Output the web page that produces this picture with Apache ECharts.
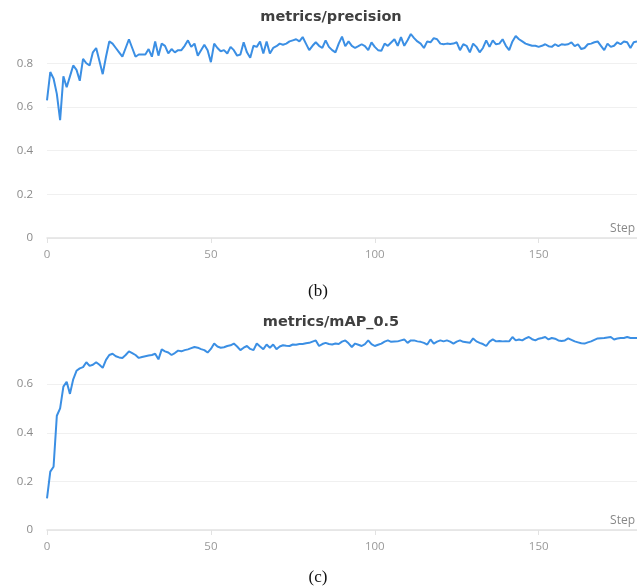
<!DOCTYPE html>
<html>
<head>
<meta charset="utf-8">
<script src="https://cdn.jsdelivr.net/npm/echarts@6/dist/echarts.min.js"></script>
<style>
  html, body { margin: 0; padding: 0; background: #fff; }
  #chart { width: 637px; height: 588px; }
</style>
</head>
<body>
<div id="chart"></div>
<script>
// values, one per step 0..180
const precision = [
  0.63, 0.76, 0.73, 0.66, 0.54, 0.74, 0.69, 0.74, 0.79, 0.77,
  0.72, 0.82, 0.80, 0.79, 0.85, 0.87, 0.81, 0.75, 0.83, 0.90,
  0.89, 0.87, 0.85, 0.83, 0.87, 0.91, 0.87, 0.83, 0.84, 0.84,
  0.84, 0.865, 0.83, 0.90, 0.835, 0.89, 0.88, 0.845, 0.865, 0.85,
  0.86, 0.86, 0.88, 0.905, 0.875, 0.89, 0.835, 0.86, 0.885, 0.86,
  0.805, 0.89, 0.87, 0.855, 0.86, 0.845, 0.875, 0.86, 0.835, 0.84,
  0.896, 0.85, 0.825, 0.88, 0.875, 0.90, 0.845, 0.90, 0.845, 0.87,
  0.878, 0.89, 0.885, 0.89, 0.90, 0.905, 0.91, 0.90, 0.92, 0.89,
  0.86, 0.88, 0.896, 0.88, 0.87, 0.905, 0.875, 0.86, 0.85, 0.89,
  0.922, 0.878, 0.90, 0.88, 0.87, 0.878, 0.887, 0.878, 0.86, 0.896,
  0.875, 0.86, 0.857, 0.89, 0.88, 0.895, 0.91, 0.88, 0.92, 0.88,
  0.905, 0.934, 0.915, 0.90, 0.89, 0.87, 0.90, 0.896, 0.915, 0.91,
  0.89, 0.887, 0.89, 0.888, 0.89, 0.896, 0.86, 0.887, 0.88, 0.85,
  0.89, 0.875, 0.85, 0.87, 0.905, 0.875, 0.905, 0.887, 0.89, 0.91,
  0.88, 0.86, 0.90, 0.925, 0.91, 0.90, 0.89, 0.885, 0.88, 0.88,
  0.875, 0.88, 0.887, 0.878, 0.875, 0.887, 0.878, 0.887, 0.885, 0.887,
  0.896, 0.878, 0.887, 0.865, 0.87, 0.887, 0.89, 0.896, 0.90, 0.88,
  0.86, 0.89, 0.875, 0.88, 0.896, 0.887, 0.90, 0.896, 0.87, 0.896,
  0.90
];

const mAP50 = [
  0.13, 0.24, 0.26, 0.47, 0.50, 0.59, 0.61, 0.56, 0.62, 0.655,
  0.665, 0.67, 0.69, 0.675, 0.68, 0.69, 0.68, 0.667, 0.70, 0.72,
  0.725, 0.715, 0.71, 0.708, 0.72, 0.735, 0.728, 0.72, 0.708, 0.712,
  0.715, 0.718, 0.72, 0.725, 0.702, 0.743, 0.735, 0.73, 0.72, 0.728,
  0.738, 0.735, 0.74, 0.743, 0.748, 0.753, 0.75, 0.744, 0.74, 0.73,
  0.745, 0.767, 0.755, 0.75, 0.752, 0.757, 0.76, 0.767, 0.755, 0.74,
  0.75, 0.757, 0.745, 0.74, 0.767, 0.755, 0.744, 0.763, 0.75, 0.763,
  0.744, 0.755, 0.76, 0.758, 0.757, 0.763, 0.762, 0.765, 0.765, 0.768,
  0.77, 0.775, 0.78, 0.757, 0.765, 0.77, 0.765, 0.763, 0.767, 0.765,
  0.775, 0.78, 0.768, 0.753, 0.767, 0.762, 0.757, 0.765, 0.78, 0.765,
  0.757, 0.762, 0.767, 0.775, 0.78, 0.774, 0.775, 0.776, 0.78, 0.784,
  0.77, 0.78, 0.78, 0.776, 0.774, 0.77, 0.763, 0.784, 0.767, 0.775,
  0.78, 0.776, 0.78, 0.775, 0.767, 0.775, 0.78, 0.774, 0.772, 0.77,
  0.788, 0.776, 0.77, 0.765, 0.757, 0.775, 0.784, 0.776, 0.778, 0.776,
  0.777, 0.776, 0.794, 0.78, 0.784, 0.78, 0.788, 0.794, 0.785, 0.78,
  0.787, 0.79, 0.794, 0.784, 0.79, 0.787, 0.78, 0.778, 0.78, 0.788,
  0.782, 0.776, 0.772, 0.768, 0.767, 0.772, 0.776, 0.782, 0.788, 0.789,
  0.79, 0.792, 0.794, 0.784, 0.788, 0.79, 0.79, 0.794, 0.79, 0.79,
  0.79
];

const stepTicks = [0, 50, 100, 150];
const titles = ['metrics/precision', 'metrics/mAP_0.5'];
const captions = ['(b)', '(c)'];

const lineColor = '#3b8fe4';

function xAxisFor(gridIndex) {
  return {
    type: 'value',
    gridIndex: gridIndex,
    min: 0,
    max: 180,
    name: 'Step',
    nameLocation: 'end',
    nameGap: -2,
    nameTextStyle: {
      color: '#888', fontSize: 12, fontFamily: 'Open Sans',
      align: 'right', verticalAlign: 'bottom', padding: [0, 0, 3, 0]
    },
    axisLine: { show: true, lineStyle: { color: '#e2e2e2', width: 1.5 } },
    axisTick: { show: true, customValues: stepTicks, length: 5, lineStyle: { color: '#e2e2e2' } },
    axisLabel: { customValues: stepTicks, color: '#999', fontSize: 11.5, fontFamily: 'Open Sans', margin: 11 },
    splitLine: { show: false }
  };
}

function yAxisFor(gridIndex) {
  return {
    type: 'value',
    gridIndex: gridIndex,
    min: 0,
    max: 'dataMax',
    interval: 0.2,
    axisLine: { show: false },
    axisTick: { show: false },
    axisLabel: { color: '#8a8a8a', fontSize: 11.5, fontFamily: 'Open Sans', margin: 14, showMaxLabel: false },
    splitLine: { show: true, showMaxLine: false, lineStyle: { color: '#f0f0f0' } }
  };
}

const myChart = echarts.init(document.getElementById('chart'), null, { renderer: 'canvas' });

const option = {
  animation: false,
  backgroundColor: '#fff',
  grid: [
    { left: 47, right: 0, top: 34, height: 204 },
    { left: 47, right: 0, top: 337, height: 193 }
  ],
  xAxis: [xAxisFor(0), xAxisFor(1)],
  yAxis: [yAxisFor(0), yAxisFor(1)],
  graphic: [
    { type: 'text', x: 331, y: 17, style: { text: titles[0], font: 'bold 14.5px "DejaVu Sans"', fill: '#404040', textAlign: 'center', textVerticalAlign: 'middle' } },
    { type: 'text', x: 331, y: 322, style: { text: titles[1], font: 'bold 14.5px "DejaVu Sans"', fill: '#404040', textAlign: 'center', textVerticalAlign: 'middle' } },
    { type: 'text', x: 318, y: 292, style: { text: captions[0], font: '17px "Liberation Serif"', fill: '#111', textAlign: 'center', textVerticalAlign: 'middle' } },
    { type: 'text', x: 318, y: 578, style: { text: captions[1], font: '17px "Liberation Serif"', fill: '#111', textAlign: 'center', textVerticalAlign: 'middle' } }
  ],
  series: [
    {
      type: 'line',
      xAxisIndex: 0,
      yAxisIndex: 0,
      data: precision.map((v, i) => [i, v]),
      showSymbol: false,
      lineStyle: { color: lineColor, width: 2 }
    },
    {
      type: 'line',
      xAxisIndex: 1,
      yAxisIndex: 1,
      data: mAP50.map((v, i) => [i, v]),
      showSymbol: false,
      lineStyle: { color: lineColor, width: 2 }
    }
  ]
};
myChart.setOption(option);
</script>
</body>
</html>
